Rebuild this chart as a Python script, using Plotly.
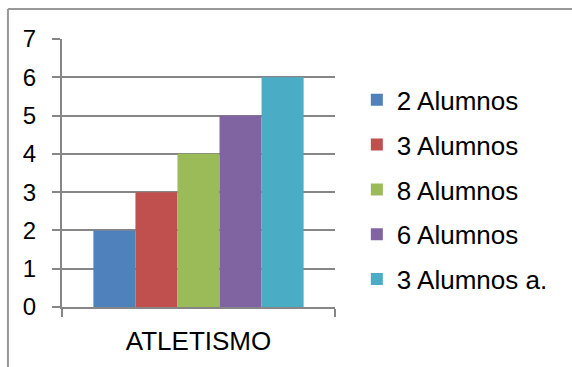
import plotly.graph_objects as go

categories = ["ATLETISMO"]
series_names = ["2 Alumnos", "3 Alumnos", "8 Alumnos", "6 Alumnos", "3 Alumnos a."]
series_values = [[2], [3], [4], [5], [6]]
colors = ["#4F81BD", "#C0504D", "#9BBB59", "#8064A2", "#4BACC6"]
y_ticks = [0, 1, 2, 3, 4, 5, 6, 7]

FONT = "Liberation Sans, Arial, sans-serif"

fig = go.Figure()
for name, vals, col in zip(series_names, series_values, colors):
    fig.add_trace(go.Bar(x=categories, y=vals, name=name, legendgroup=name,
                         marker=dict(color=col, line=dict(width=0))))

fig.update_layout(
    width=572, height=367,
    margin=dict(l=62, r=237, t=39, b=60),
    paper_bgcolor="white", plot_bgcolor="white",
    barmode="group", bargap=0.23, bargroupgap=0,
    font=dict(family=FONT, size=22, color="black"),
    showlegend=True,
    legend=dict(x=1.08, y=0.437, xanchor="left", yanchor="middle",
                font=dict(family=FONT, size=26, color="black"),
                tracegroupgap=8, bgcolor="rgba(0,0,0,0)"),
    xaxis=dict(showgrid=False, showline=True, linecolor="#868686", linewidth=2,
               ticks="outside", ticklen=8, tickcolor="#868686", tickwidth=2,
               tickson="boundaries", tickfont=dict(size=26, family=FONT),
               ticklabelstandoff=10),
    yaxis=dict(range=[0, 7], tickvals=y_ticks, showgrid=True, gridcolor="#868686",
               gridwidth=2, showline=True, linecolor="#868686", linewidth=2,
               ticks="outside", ticklen=8, tickcolor="#868686", tickwidth=2,
               zeroline=False, tickfont=dict(size=24, family=FONT),
               ticklabelstandoff=11),
)

# outer chart frame (partially cropped in the reference)
fig.add_shape(type="line", xref="paper", yref="paper",
              x0=-0.198, y0=-0.3, x1=-0.198, y1=1.112,
              line=dict(color="#999999", width=2))
fig.add_shape(type="line", xref="paper", yref="paper",
              x0=-0.198, y0=1.112, x1=1.9, y1=1.112,
              line=dict(color="#999999", width=2))

fig.write_html("out.html")
